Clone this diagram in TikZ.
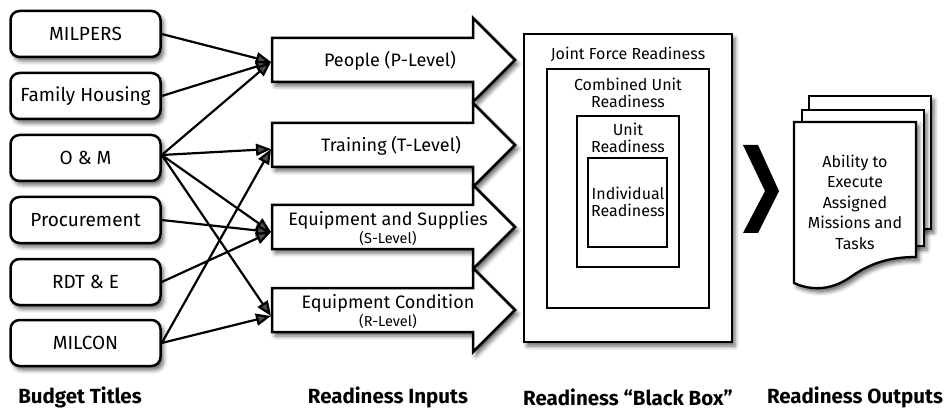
\documentclass[tikz,border=0pt]{standalone}
\usepackage{fontspec}
\setmainfont{Fira Sans}
\usetikzlibrary{shadows.blur,arrows.meta}
\newcommand\subfnt{\fontsize{14.5}{16}\selectfont}
\begin{document}
\begin{tikzpicture}[x=1pt,y=-1pt,
  shad/.style={blur shadow={shadow xshift=3pt,shadow yshift=-4pt,shadow blur radius=4pt,shadow opacity=60}},
  budget/.style={draw,line width=2.5pt,rounded corners=9pt,minimum width=150pt,minimum height=46pt,fill=white,shad,font=\fontsize{19}{22}\selectfont,inner sep=0pt},
  inarrow/.style={draw,line width=2.5pt,fill=white,shad,line join=miter},
  intext/.style={font=\fontsize{18}{20}\selectfont,align=center,inner sep=0pt},
  conn/.style={line width=2.2pt,-{Triangle[length=15pt,width=12pt]}},
  boxrect/.style={draw,line width=2.3pt,fill=white,inner sep=0pt},
  bbtext/.style={font=\fontsize{16}{17}\selectfont,align=center,inner sep=0pt},
  lbl/.style={font=\fontsize{20.5}{22}\selectfont\bfseries,inner sep=0pt},
  page/.style={draw,line width=2.3pt,fill=white,shad}]
\useasboundingbox (0,0) rectangle (946,409);

% Budget titles
\node[budget] (milpers) at (85.5,34) {MILPERS};
\node[budget] (family) at (85.5,96) {Family Housing};
\node[budget] (om) at (85.5,158) {O \& M};
\node[budget] (proc) at (85.5,220) {Procurement};
\node[budget] (rdte) at (85.5,282) {RDT \& E};
\node[budget] (milcon) at (85.5,343) {MILCON};

% Readiness input arrows
\draw[inarrow] (272,38) -- (473,38) -- (473,18) -- (515,60) -- (473,102) -- (473,82) -- (272,82) -- cycle;
\draw[inarrow] (272,123) -- (473,123) -- (473,103) -- (515,145) -- (473,187) -- (473,167) -- (272,167) -- cycle;
\draw[inarrow] (272,205) -- (473,205) -- (473,185) -- (515,227) -- (473,269) -- (473,249) -- (272,249) -- cycle;
\draw[inarrow] (272,288) -- (473,288) -- (473,268) -- (515,310) -- (473,352) -- (473,332) -- (272,332) -- cycle;

\node[intext] (people) at (390,61) {People (P-Level)};
\node[intext] (training) at (391,146) {Training (T-Level)};
\node[intext] (equip) at (388,229) {Equipment and Supplies\\[-2pt]{\subfnt(S-Level)}};
\node[intext] (cond) at (388,312) {Equipment Condition\\[-2pt]{\subfnt(R-Level)}};

\coordinate (pIn) at (271,62);
\coordinate (tIn) at (271,149);
\coordinate (sIn) at (271,232);
\coordinate (rIn) at (271,316);

% Connectors
\draw[conn] (milpers.east) -- (pIn);
\draw[conn] (family.east) -- (pIn);
\draw[conn] ([yshift=3pt]om.east) -- (pIn);
\draw[conn] ([yshift=3pt]om.east) -- (tIn);
\draw[conn] ([yshift=3pt]om.east) -- (sIn);
\draw[conn] ([yshift=3pt]om.east) -- (rIn);
\draw[conn] (proc.east) -- (sIn);
\draw[conn] (rdte.east) -- (sIn);
\draw[conn] (milcon.east) -- (tIn);
\draw[conn] (milcon.east) -- (rIn);

% Black box
\node[boxrect,shad,line width=2.6pt,minimum width=208pt,minimum height=308pt] (jfr) at (628,188) {};
\node[boxrect,minimum width=162pt,minimum height=239pt] (cur) at (628,188.5) {};
\node[boxrect,minimum width=102pt,minimum height=151pt] (ur) at (628,191.5) {};
\node[boxrect,minimum width=79pt,minimum height=89pt] (ir) at (627.5,202.5) {};
\node[bbtext] (jfrt) at (628,54) {Joint Force Readiness};
\node[bbtext] (curt) at (628,93) {Combined Unit\\Readiness};
\node[bbtext] (urt) at (628,138) {Unit\\Readiness};
\node[bbtext] (irt) at (628,201.5) {Individual\\Readiness};

% Chevron
\fill (743,145) -- (758,145) -- (779,191) -- (758,233) -- (743,233) -- (765,191) -- cycle;

% Output documents
\draw[page] (809,96) rectangle (931,229);
\draw[page] (802,110) rectangle (924,246);
\draw[page] (794,122) -- (916,122) -- (916,257) .. controls (892,257) and (872,262) .. (852,276) .. controls (834,289) and (814,292) .. (794,283) -- cycle;
\node[bbtext,font=\fontsize{16}{20.5}\selectfont] (out) at (855,202) {Ability to\\Execute\\Assigned\\Missions and\\Tasks};

% Column labels
\node[lbl] (l1) at (80,397) {Budget Titles};
\node[lbl] (l2) at (388,397) {Readiness Inputs};
\node[lbl] (l3) at (628,397) {Readiness “Black Box”};
\node[lbl] (l4) at (855,397) {Readiness Outputs};
\end{tikzpicture}
\end{document}
